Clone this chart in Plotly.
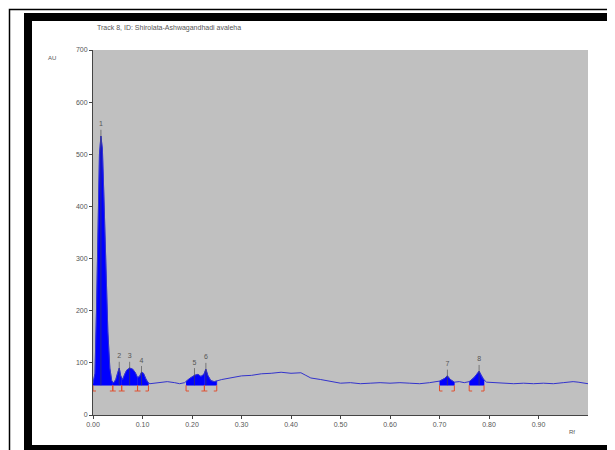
import numpy as np
import plotly.graph_objects as go

title_text = "Track 8, ID: Shirolata-Ashwagandhadi avaleha"
y_unit = "AU"
x_unit = "Rf"

rf = [0.000, 0.004, 0.007, 0.010, 0.013, 0.016, 0.019, 0.022, 0.026, 0.030, 0.034, 0.038,
      0.042, 0.046, 0.050, 0.053, 0.056, 0.060, 0.064, 0.068, 0.074, 0.080, 0.085, 0.090,
      0.094, 0.098, 0.102, 0.106, 0.110, 0.115, 0.125, 0.135, 0.150, 0.165, 0.175, 0.185,
      0.195, 0.205, 0.212, 0.218, 0.224, 0.228, 0.232, 0.238, 0.245, 0.260, 0.280, 0.300,
      0.320, 0.340, 0.360, 0.380, 0.400, 0.420, 0.430, 0.440, 0.460, 0.480, 0.500, 0.520,
      0.540, 0.560, 0.580, 0.600, 0.620, 0.640, 0.660, 0.680, 0.690, 0.700, 0.710, 0.716,
      0.722, 0.730, 0.740, 0.750, 0.760, 0.770, 0.780, 0.787, 0.795, 0.810, 0.830, 0.850,
      0.870, 0.890, 0.910, 0.930, 0.950, 0.970, 0.980, 1.000]
au = [60, 80, 200, 380, 500, 535, 510, 420, 280, 160, 90, 65,
      62, 68, 82, 90, 75, 68, 78, 86, 90, 88, 82, 72,
      74, 82, 80, 70, 63, 60, 61, 63, 64, 62, 60, 62,
      70, 76, 78, 74, 78, 88, 76, 66, 64, 68, 72, 75,
      76, 79, 80, 82, 80, 81, 76, 71, 68, 64, 61, 62,
      60, 61, 62, 61, 62, 61, 60, 62, 63, 65, 70, 75,
      68, 63, 64, 62, 64, 72, 84, 70, 63, 62, 61, 60,
      61, 60, 61, 60, 62, 64, 63, 60]

baseline = 57
peak_labels = ["1", "2", "3", "4", "5", "6", "7", "8"]
peak_start = [0.000, 0.040, 0.058, 0.090, 0.188, 0.225, 0.700, 0.760]
peak_end = [0.040, 0.058, 0.090, 0.112, 0.225, 0.250, 0.730, 0.790]
peak_rf = [0.016, 0.053, 0.074, 0.098, 0.205, 0.228, 0.716, 0.780]
peak_au = [535, 90, 90, 82, 78, 88, 75, 84]

y_ticks = [0, 100, 200, 300, 400, 500, 600, 700]
x_ticks = [0.0, 0.1, 0.2, 0.3, 0.4, 0.5, 0.6, 0.7, 0.8, 0.9]

rf_a = np.array(rf)
au_a = np.array(au, dtype=float)

fig = go.Figure()

# filled peak areas
for s, e in zip(peak_start, peak_end):
    m = (rf_a > s) & (rf_a < e)
    xs = [s] + list(rf_a[m]) + [e, e, s]
    ys = [float(np.interp(s, rf_a, au_a))] + list(au_a[m]) + [float(np.interp(e, rf_a, au_a)), baseline, baseline]
    fig.add_trace(go.Scatter(x=xs, y=ys, fill="toself", fillcolor="#0000ff",
                             line=dict(color="#0000ff", width=0.5), mode="lines",
                             hoverinfo="skip", showlegend=False))

# main curve
fig.add_trace(go.Scatter(x=rf, y=au, mode="lines", line=dict(color="#3333cc", width=1),
                         showlegend=False))

# integration brackets (red)
bx, by = [], []
for s, e in zip(peak_start, peak_end):
    d = 0.006
    bx += [s + d, s, s, None, e - d, e, e, None]
    by += [46, 46, baseline, None, 46, 46, baseline, None]
fig.add_trace(go.Scatter(x=bx, y=by, mode="lines", line=dict(color="#e05030", width=1),
                         hoverinfo="skip", showlegend=False))

# peak marker lines and labels
mx, my = [], []
for p, h in zip(peak_rf, peak_au):
    mx += [p, p, None]
    my += [baseline, h + 12, None]
fig.add_trace(go.Scatter(x=mx, y=my, mode="lines", line=dict(color="#444444", width=0.6),
                         hoverinfo="skip", showlegend=False))
fig.add_trace(go.Scatter(x=peak_rf, y=[h + 22 for h in peak_au], mode="text", text=peak_labels,
                         textfont=dict(size=7, color="#555555", family="Liberation Sans"),
                         hoverinfo="skip", showlegend=False))

# page body has an 8px margin; figure coordinates are screen coordinates minus 8
OFF = 8
W, H = 607, 442
L, R, T, B = 85, 27, 42, 35
pw, ph = W - L - R, H - T - B


def px(x):
    return (x - OFF - L) / pw


def py(y):
    return (H - B - (y - OFF)) / ph


shapes = [
    dict(type="rect", xref="paper", yref="paper", x0=px(9.5), y0=py(9.5), x1=px(640), y1=py(470),
         line=dict(color="black", width=1.5)),
    dict(type="rect", xref="paper", yref="paper", x0=px(28), y0=py(17), x1=px(614), y1=py(449),
         line=dict(color="black", width=8)),
]

annotations = [
    dict(text=title_text, xref="paper", yref="paper", x=px(95), y=py(28), xanchor="left",
         yanchor="middle", showarrow=False, font=dict(size=7, color="#555555", family="Liberation Sans")),
    dict(text=y_unit, xref="paper", yref="paper", x=px(52), y=py(58), xanchor="center",
         yanchor="middle", showarrow=False, font=dict(size=6, color="#555555", family="Liberation Sans")),
    dict(text=x_unit, xref="paper", yref="paper", x=px(572), y=py(432), xanchor="center",
         yanchor="middle", showarrow=False, font=dict(size=6, color="#555555", family="Liberation Sans")),
]

fig.update_layout(
    width=W, height=H,
    margin=dict(l=L, r=R, t=T, b=B, pad=0),
    paper_bgcolor="white", plot_bgcolor="#c0c0c0",
    shapes=shapes, annotations=annotations,
    xaxis=dict(range=[0, 1.0], tickvals=x_ticks, ticktext=[f"{v:.2f}" for v in x_ticks],
               showgrid=False, zeroline=False, showline=True, linecolor="#444444", linewidth=1,
               ticks="outside", ticklen=3, tickcolor="#444444",
               tickfont=dict(size=7, color="#555555", family="Liberation Sans")),
    yaxis=dict(range=[0, 700], tickvals=y_ticks, showgrid=False, zeroline=False, showline=True,
               linecolor="#444444", linewidth=1, ticks="outside", ticklen=3, tickcolor="#444444",
               tickfont=dict(size=7, color="#555555", family="Liberation Sans")),
)

fig.write_html("out.html")
